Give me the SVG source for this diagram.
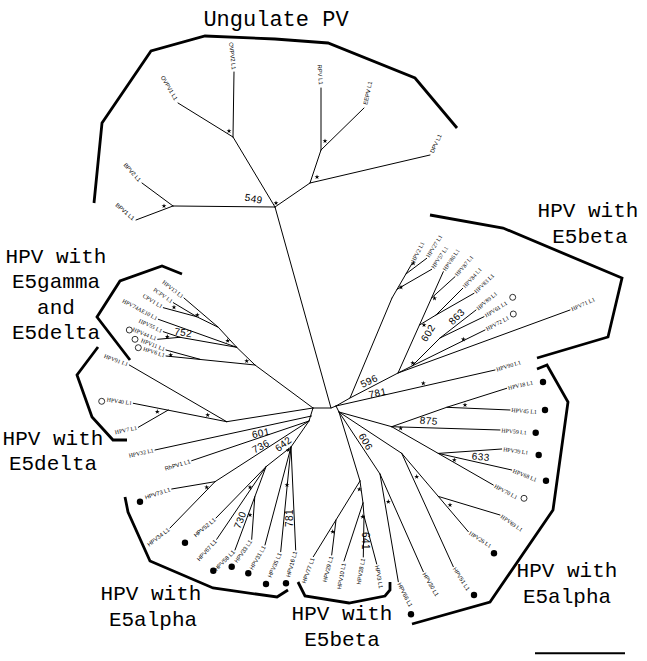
<svg xmlns="http://www.w3.org/2000/svg" xmlns:xlink="http://www.w3.org/1999/xlink" width="647" height="661" viewBox="0 0 647 661">
<style>
.e{fill:none;stroke:#000;stroke-width:1;stroke-linecap:round;stroke-linejoin:round}
.br{fill:none;stroke:#000;stroke-width:2.8;stroke-linejoin:miter}
.c{font-family:"Liberation Mono",monospace;font-size:21px;text-anchor:middle;fill:#000}
.n{font-family:"Liberation Sans",sans-serif;font-size:10px;letter-spacing:0.4px;text-anchor:middle;fill:#000}
.ls,.le{font-family:"Liberation Serif",serif;font-size:5.8px;fill:#000}
.ss,.se{font-family:"Liberation Sans",sans-serif;font-size:5.8px;fill:#000}
.le,.se{text-anchor:end}
.dot{fill:#000}
.oc{fill:#fff;stroke:#000;stroke-width:0.8}
</style>
<defs>
<path id="s" d="M0,-2.6 L0.59,-0.81 L2.47,-0.8 L0.95,0.31 L1.53,2.1 L0,1 L-1.53,2.1 L-0.95,0.31 L-2.47,-0.8 L-0.59,-0.81Z" fill="#000"/>
</defs>
<rect width="647" height="661" fill="#fff"/>

<g id="connectors">
<path class="e" d="M275,207 L173,206 M173,206 L142,183 M173,206 L136,220 M275,207 L233,137 M233,137 L178,103 M233,137 L234,72 M275,207 L310,183 M310,183 L430,155 M310,183 L321,150 M321,150 L321,88 M321,150 L364,108 M275,207 L331,408"/>
<path class="e" d="M313,408 L331,408 L336,406 M313,408 L255,365 M313,408 L226.7,421.7 M313,408 L309,421 M311.5,416 L155,450 M309,421 L191.7,460.7 M309,421 L215,481.7 M309,421 L291,447"/>
<path class="e" d="M255,365 L236.7,347.3 L218.3,327.3 L184,298 M255,365 L166,356 M200,359.3 L166,350 M236.7,347.3 L158.3,319.3 M236.7,347.3 L180,337.3 M180,337.3 L163.3,331.7 M180,337.3 L157.7,339.3 M218.3,327.3 L196.7,316.7 M196.7,316.7 L173.3,302.7 M196.7,316.7 L163.3,307.7"/>
<path class="e" d="M226.7,421.7 L129.3,365 M226.7,421.7 L133.3,403.3 M168.3,410 L138.3,427.3"/>
<path class="e" d="M215,481.7 L171.7,489 M215,481.7 L170,528 M291,447 L266,466.7 M266,466.7 L216,518 M266,466.7 L216.7,539.3 M266,466.7 L235,550 M254.8,496.7 L251.7,539.3 M291,447 L265,545 M291,447 L280.7,551.7 M291,447 L295.7,550"/>
<path class="e" d="M336,406 L350,398 L392,298 M350,398 L398,373 L570,310 M336,406 L495,370 M336,406 L339,412"/>
<path class="e" d="M392,298 L412,263.5 M397,289.3 L431.7,269.3 M405.9,274 L426.7,258.3"/>
<path class="e" d="M398,373 L443.3,271.7 M431.5,298 L455,276.7 M419.5,325 L436,315 M436,315 L462.7,288.3 M436,315 L474,293.3 M398,373 L412,366 L440,338 M440,338 L476,310 M440,338 L484,316.7 M412,366 L485,330"/>
<path class="e" d="M339,412 L391.7,426.7 M391.7,426.7 L446.7,407.3 L506.7,388.3 M446.7,407.3 L510,410 M391.7,426.7 L500,430 M391.7,426.7 L493.3,485 M438.3,453.4 L501.7,449 M438.3,453.4 L511.7,470"/>
<path class="e" d="M339,412 L401.7,453.3 M401.7,453.3 L453.3,566.7 M401.7,453.3 L468.3,531.7 M438.3,496.4 L500,515 M339,412 L380,474 M380,474 L398.3,581.7 M380,474 L423.3,571.7"/>
<path class="e" d="M339,412 L360,481 M360,481 L313.3,556.7 M336,520 L331.7,555 M360,481 L363,503 M363,503 L344,561 M363,503 L364,516 M364,516 L363.3,557 M364,516 L376.7,564"/>
</g>

<g id="supports">
<use href="#s" x="229" y="131"/><use href="#s" x="276" y="203"/><use href="#s" x="164" y="206"/><use href="#s" x="317" y="177"/><use href="#s" x="325" y="141"/>
<use href="#s" x="401" y="287.3"/><use href="#s" x="413.3" y="263.3"/>
<use href="#s" x="434.5" y="298.3"/><use href="#s" x="424" y="325"/><use href="#s" x="412.7" y="363"/><use href="#s" x="463.3" y="339.3"/><use href="#s" x="423.3" y="383.3"/>
<use href="#s" x="197.3" y="315"/><use href="#s" x="174" y="307.3"/><use href="#s" x="227.7" y="340.7"/><use href="#s" x="246.7" y="361"/><use href="#s" x="167.3" y="336.7"/><use href="#s" x="170.7" y="355"/>
<use href="#s" x="157.3" y="411.7"/><use href="#s" x="207.7" y="415"/>
<use href="#s" x="206.7" y="487.3"/><use href="#s" x="250" y="487.3"/><use href="#s" x="250" y="515"/><use href="#s" x="288.3" y="450"/><use href="#s" x="287" y="485"/>
<use href="#s" x="359.3" y="489.3"/><use href="#s" x="332.7" y="531.7"/><use href="#s" x="362.7" y="516.7"/>
<use href="#s" x="388.3" y="501.7"/><use href="#s" x="416.7" y="476.7"/><use href="#s" x="450" y="505"/>
<use href="#s" x="400.7" y="428.3"/><use href="#s" x="465" y="405"/><use href="#s" x="454.3" y="460"/>
</g>

<g id="bootstrap-values">
<text class="n" transform="translate(253.7,198.7) rotate(10)" dy=".35em">549</text>
<text class="n" transform="translate(183.3,332.5) rotate(8)" dy=".35em">752</text>
<text class="n" transform="translate(369,381) rotate(-25)" dy=".35em">596</text>
<text class="n" transform="translate(377.5,393) rotate(-12)" dy=".35em">781</text>
<text class="n" transform="translate(428,333) rotate(-58)" dy=".35em">602</text>
<text class="n" transform="translate(456.7,316.7) rotate(-45)" dy=".35em">863</text>
<text class="n" transform="translate(428.8,420.8) rotate(5)" dy=".35em">875</text>
<text class="n" transform="translate(480.8,456.8) rotate(5)" dy=".35em">633</text>
<text class="n" transform="translate(365.8,441.7) rotate(60)" dy=".35em">606</text>
<text class="n" transform="translate(260.8,433) rotate(-12)" dy=".35em">601</text>
<text class="n" transform="translate(260.8,446.3) rotate(-28)" dy=".35em">736</text>
<text class="n" transform="translate(283.3,444) rotate(-38)" dy=".35em">642</text>
<text class="n" transform="translate(240,520) rotate(-68)" dy=".35em">730</text>
<text class="n" transform="translate(289,518) rotate(-90)" dy=".35em">781</text>
<text class="n" transform="translate(365,541) rotate(90)" dy=".35em">641</text>
</g>

<g id="leaf-OVPV1"><text class="se" transform="translate(177,101) rotate(59)" dx="-1.5" dy="2">OVPV1 L1</text></g>
<g id="leaf-OVPV2"><text class="se" transform="translate(234,71) rotate(84)" dx="-1.5" dy="2">OVPV2 L1</text></g>
<g id="leaf-RPV"><text class="se" transform="translate(321,86) rotate(86)" dx="-1.5" dy="2">RPV L1</text></g>
<g id="leaf-EEPV"><text class="ss" transform="translate(365,106) rotate(-78)" dx="1.5" dy="2">EEPV L1</text></g>
<g id="leaf-DPV"><text class="ss" transform="translate(431,154) rotate(-65)" dx="1.5" dy="2">DPV L1</text></g>
<g id="leaf-BPV2"><text class="se" transform="translate(141,182) rotate(48)" dx="-1.5" dy="2">BPV2 L1</text></g>
<g id="leaf-BPV1"><text class="se" transform="translate(135,220) rotate(40)" dx="-1.5" dy="2">BPV1 L1</text></g>

<g id="leaf-HPV13"><text class="le" transform="translate(184,298) rotate(38)" dx="-1.5" dy="2">HPV13 L1</text></g>
<g id="leaf-PCPV"><text class="le" transform="translate(173.3,302.7) rotate(35)" dx="-1.5" dy="2">PCPV L1</text></g>
<g id="leaf-CPV1"><text class="le" transform="translate(163.3,307.7) rotate(32)" dx="-1.5" dy="2">CPV1 L1</text></g>
<g id="leaf-HPV74"><text class="le" transform="translate(158.3,319.3) rotate(28)" dx="-1.5" dy="2">HPV74AE10 L1</text></g>
<g id="leaf-HPV55"><text class="le" transform="translate(163.3,331.7) rotate(25)" dx="-1.5" dy="2">HPV55 L1</text></g>
<g id="leaf-HPV44"><circle class="oc" cx="129.3" cy="330" r="3"/><text class="le" transform="translate(157.7,339.3) rotate(22)" dx="-1.5" dy="2">HPV44 L1</text></g>
<g id="leaf-HPV11"><circle class="oc" cx="135" cy="339.3" r="3"/><text class="le" transform="translate(166,350) rotate(22)" dx="-1.5" dy="2">HPV11 L1</text></g>
<g id="leaf-HPV6"><circle class="oc" cx="138.3" cy="347.7" r="3"/><text class="le" transform="translate(166,356) rotate(18)" dx="-1.5" dy="2">HPV6 L1</text></g>
<g id="leaf-HPV91"><text class="le" transform="translate(129.3,365) rotate(20)" dx="-1.5" dy="2">HPV91 L1</text></g>
<g id="leaf-HPV40"><circle class="oc" cx="101.7" cy="401.3" r="3"/><text class="le" transform="translate(133.3,403.3) rotate(8)" dx="-1.5" dy="2">HPV40 L1</text></g>
<g id="leaf-HPV7"><text class="le" transform="translate(138.3,427.3) rotate(-12)" dx="-1.5" dy="2">HPV7 L1</text></g>
<g id="leaf-HPV32"><text class="le" transform="translate(155,450) rotate(-12)" dx="-1.5" dy="2">HPV32 L1</text></g>
<g id="leaf-RhPV1"><text class="se" transform="translate(191.7,460.7) rotate(-17)" dx="-1.5" dy="2">RhPV1 L1</text></g>

<g id="leaf-HPV73"><circle class="dot" cx="140" cy="501.7" r="3.2"/><text class="se" transform="translate(171.7,489) rotate(-18)" dx="-1.5" dy="2">HPV73 L1</text></g>
<g id="leaf-HPV34"><text class="se" transform="translate(170,528) rotate(-38)" dx="-1.5" dy="2">HPV34 L1</text></g>
<g id="leaf-HPV52"><circle class="dot" cx="185" cy="542.7" r="3.2"/><text class="se" transform="translate(216,518) rotate(-40)" dx="-1.5" dy="2">HPV52 L1</text></g>
<g id="leaf-HPV67"><text class="se" transform="translate(216.7,539.3) rotate(-48)" dx="-1.5" dy="2">HPV67 L1</text></g>
<g id="leaf-HPV58"><circle class="dot" cx="213.3" cy="570.7" r="3.2"/><text class="se" transform="translate(235,550) rotate(-45)" dx="-1.5" dy="2">HPV58 L1</text></g>
<g id="leaf-HPV33"><circle class="dot" cx="231.7" cy="566.7" r="3.2"/><text class="se" transform="translate(251.7,539.3) rotate(-55)" dx="-1.5" dy="2">HPV33 L1</text></g>
<g id="leaf-HPV31"><circle class="dot" cx="248.3" cy="573.3" r="3.2"/><text class="se" transform="translate(265,545) rotate(-60)" dx="-1.5" dy="2">HPV31 L1</text></g>
<g id="leaf-HPV35"><circle class="dot" cx="266" cy="584" r="3.2"/><text class="se" transform="translate(280.7,551.7) rotate(-66)" dx="-1.5" dy="2">HPV35 L1</text></g>
<g id="leaf-HPV16"><circle class="dot" cx="286" cy="583.3" r="3.2"/><text class="se" transform="translate(295.7,550) rotate(-74)" dx="-1.5" dy="2">HPV16 L1</text></g>

<g id="leaf-HPV77"><text class="se" transform="translate(313.3,556.7) rotate(-70)" dx="-1.5" dy="2">HPV77 L1</text></g>
<g id="leaf-HPV29"><text class="se" transform="translate(331.7,555) rotate(-75)" dx="-1.5" dy="2">HPV29 L1</text></g>
<g id="leaf-HPV10"><text class="se" transform="translate(344,561.7) rotate(-80)" dx="-1.5" dy="2">HPV10 L1</text></g>
<g id="leaf-HPV28"><text class="se" transform="translate(363.3,557) rotate(-80)" dx="-1.5" dy="2">HPV28 L1</text></g>
<g id="leaf-HPV3"><text class="ss" transform="translate(376.7,564) rotate(80)" dx="1.5" dy="2">HPV3 L1</text></g>
<g id="leaf-HPV66"><circle class="dot" cx="411" cy="614.3" r="3.2"/><text class="ss" transform="translate(398.3,581.7) rotate(63)" dx="1.5" dy="2">HPV66 L1</text></g>
<g id="leaf-HPV30"><text class="ss" transform="translate(423.3,571.7) rotate(60)" dx="1.5" dy="2">HPV30 L1</text></g>
<g id="leaf-HPV51"><circle class="dot" cx="474" cy="595" r="3.2"/><text class="ss" transform="translate(453.3,566.7) rotate(57)" dx="1.5" dy="2">HPV51 L1</text></g>

<g id="leaf-HPV26"><circle class="dot" cx="494" cy="553.3" r="3.2"/><text class="ls" transform="translate(468.3,531.7) rotate(33)" dx="1.5" dy="2">HPV26 L1</text></g>
<g id="leaf-HPV69"><text class="ls" transform="translate(500,515) rotate(35)" dx="1.5" dy="2">HPV69 L1</text></g>
<g id="leaf-HPV70"><circle class="oc" cx="524" cy="498.3" r="3"/><text class="ls" transform="translate(493.3,485) rotate(28)" dx="1.5" dy="2">HPV70 L1</text></g>
<g id="leaf-HPV68"><circle class="dot" cx="546" cy="480.7" r="3.2"/><text class="ls" transform="translate(511.7,470) rotate(22)" dx="1.5" dy="2">HPV68 L1</text></g>
<g id="leaf-HPV39"><circle class="dot" cx="538.7" cy="455" r="3.2"/><text class="ls" transform="translate(501.7,449) rotate(8)" dx="1.5" dy="2">HPV39 L1</text></g>
<g id="leaf-HPV59"><circle class="dot" cx="535.7" cy="432.7" r="3.2"/><text class="ls" transform="translate(500,430) rotate(6)" dx="1.5" dy="2">HPV59 L1</text></g>
<g id="leaf-HPV45"><circle class="dot" cx="545" cy="410" r="3.2"/><text class="ls" transform="translate(510,410) rotate(4)" dx="1.5" dy="2">HPV45 L1</text></g>
<g id="leaf-HPV18"><circle class="dot" cx="543" cy="382" r="3.2"/><text class="ls" transform="translate(506.7,388.3) rotate(-13)" dx="1.5" dy="2">HPV18 L1</text></g>
<g id="leaf-HPV90"><text class="ls" transform="translate(495,370) rotate(-17)" dx="1.5" dy="2">HPV90 L1</text></g>
<g id="leaf-HPV71"><text class="ls" transform="translate(570,310) rotate(-24)" dx="1.5" dy="2">HPV71 L1</text></g>
<g id="leaf-HPV72"><circle class="oc" cx="513.3" cy="314" r="3"/><text class="ls" transform="translate(485,330) rotate(-28)" dx="1.5" dy="2">HPV72 L1</text></g>
<g id="leaf-HPV61"><circle class="oc" cx="512.7" cy="297.3" r="3"/><text class="ls" transform="translate(484,316.7) rotate(-32)" dx="1.5" dy="2">HPV61 L1</text></g>
<g id="leaf-HPV89"><text class="ls" transform="translate(476,310) rotate(-40)" dx="1.5" dy="2">HPV89 L1</text></g>
<g id="leaf-HPV83"><text class="ls" transform="translate(474,293.3) rotate(-44)" dx="1.5" dy="2">HPV83 L1</text></g>
<g id="leaf-HPV84"><text class="ls" transform="translate(462.7,288.3) rotate(-48)" dx="1.5" dy="2">HPV84 L1</text></g>
<g id="leaf-HPV87"><text class="ls" transform="translate(455,276.7) rotate(-50)" dx="1.5" dy="2">HPV87 L1</text></g>
<g id="leaf-HPV86"><text class="ls" transform="translate(443.3,271.7) rotate(-56)" dx="1.5" dy="2">HPV86 L1</text></g>
<g id="leaf-HPV57"><text class="ls" transform="translate(431.7,269.3) rotate(-56)" dx="1.5" dy="2">HPV57 L1</text></g>
<g id="leaf-HPV27"><text class="ls" transform="translate(426.7,258.3) rotate(-58)" dx="1.5" dy="2">HPV27 L1</text></g>
<g id="leaf-HPV2"><text class="ls" transform="translate(412,263.5) rotate(-63)" dx="1.5" dy="2">HPV2 L1</text></g>

<g id="brackets">
<polyline class="br" points="94,203 102,123 151,51 205,36 275,39 328,43 415,78 457,128"/>
<polyline class="br" points="430,215 503,228 622,278 608,337 537,358"/>
<polyline class="br" points="182,274 162,266 120,281 97,317 130,360"/>
<polyline class="br" points="98,347 77,375 92,417 113,440 127,440"/>
<polyline class="br" points="125,497 128,512 150,561 213,588 277,597 288,590"/>
<polyline class="br" points="298,582 305,596 349,603 385,596 390,590 390,582"/>
<polyline class="br" points="537,369 547,365 568,402 553,510 490,602 412,624"/>
</g>

<g id="clade-ungulate"><text class="c" x="276" y="26" style="font-size:22px">Ungulate PV</text></g>
<g id="clade-e5beta-top"><text class="c" x="588" y="217">HPV with</text><text class="c" x="590" y="243">E5beta</text></g>
<g id="clade-e5gamma"><text class="c" x="56" y="263">HPV with</text><text class="c" x="56" y="288">E5gamma</text><text class="c" x="56" y="314">and</text><text class="c" x="56" y="339">E5delta</text></g>
<g id="clade-e5delta"><text class="c" x="53" y="445">HPV with</text><text class="c" x="53" y="470">E5delta</text></g>
<g id="clade-e5alpha-left"><text class="c" x="151" y="600">HPV with</text><text class="c" x="153" y="626">E5alpha</text></g>
<g id="clade-e5beta-bottom"><text class="c" x="342" y="620">HPV with</text><text class="c" x="342" y="646">E5beta</text></g>
<g id="clade-e5alpha-right"><text class="c" x="567" y="577">HPV with</text><text class="c" x="567" y="603">E5alpha</text></g>

<g id="scale-bar"><line x1="535" y1="653.3" x2="625" y2="653.3" stroke="#000" stroke-width="2"/></g>
</svg>
